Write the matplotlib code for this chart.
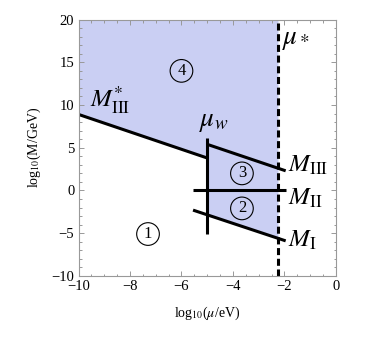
import matplotlib

matplotlib.use("Agg")
import numpy as np
import matplotlib.pyplot as plt
from matplotlib.ticker import MultipleLocator

plt.rcParams["font.family"] = ["Liberation Serif", "DejaVu Serif"]
plt.rcParams["mathtext.fontset"] = "stix"

# boundary lines, (log10 mu/eV, log10 M/GeV)
m3_star_x = [-10.0, -5.0]
m3_star_y = [8.9, 3.8]
m3_x = [-5.0, -1.95]
m3_y = [5.4, 2.3]
m2_x = [-5.55, -1.95]
m2_y = [0.0, 0.0]
m1_x = [-5.55, -1.95]
m1_y = [-2.3, -5.9]
mu_w = -5.0
mu_w_range = [-5.1, 6.1]
mu_star = -2.25

regions = ["1", "2", "3", "4"]
region_x = [-7.3, -3.65, -3.65, -6.0]
region_y = [-5.1, -2.1, 2.0, 14.0]

fill_col = "#cacff3"
line_kw = dict(color="black", lw=2.2, solid_capstyle="butt")

fig = plt.figure(figsize=(3.74, 3.44), dpi=100)
ax = fig.add_axes([0.210, 0.198, 0.688, 0.745])

# shaded region: above M*_III (left of mu_w), above M_I (right of mu_w), left of mu_*
xl = np.linspace(-10, mu_w, 50)
xr = np.linspace(mu_w, mu_star, 50)
lower = np.concatenate([np.interp(xl, m3_star_x, m3_star_y),
                        np.interp(xr, m1_x, m1_y)])
xs = np.concatenate([xl, xr])
ax.fill_between(xs, lower, 20, color=fill_col, lw=0)

ax.plot(m3_star_x, m3_star_y, **line_kw)
ax.plot(m3_x, m3_y, **line_kw)
ax.plot(m2_x, m2_y, **line_kw)
ax.plot(m1_x, m1_y, **line_kw)
ax.plot([mu_w, mu_w], mu_w_range, **line_kw)
ax.axvline(mu_star, color="black", lw=2.2, linestyle=(0, (2.3, 1.2)))

for lab, x, y in zip(regions, region_x, region_y):
    ax.text(x, y, lab, ha="center", va="center", fontsize=12,
            bbox=dict(boxstyle="circle,pad=0.2", fc="none", ec="black", lw=0.8))

fs = 18
ax.text(-9.55, 9.75, r"$M_{\rm III}^{*}$", fontsize=fs, ha="left", va="baseline")
ax.text(-5.3, 7.6, r"$\mu_w$", fontsize=19.5, ha="left", va="baseline")
ax.text(-2.1, 17.2, r"$\mu_*$", fontsize=19.5, ha="left", va="baseline")
ax.text(-1.85, 2.2, r"$M_{\rm III}$", fontsize=fs, ha="left", va="baseline")
ax.text(-1.85, -1.7, r"$M_{\rm II}$", fontsize=fs, ha="left", va="baseline")
ax.text(-1.85, -6.6, r"$M_{\rm I}$", fontsize=fs, ha="left", va="baseline")

ax.set_xlim(-10, 0)
ax.set_ylim(-10, 20)
ax.xaxis.set_major_locator(MultipleLocator(2))
ax.xaxis.set_minor_locator(MultipleLocator(0.5))
ax.yaxis.set_major_locator(MultipleLocator(5))
ax.yaxis.set_minor_locator(MultipleLocator(1))
ax.tick_params(which="both", direction="in", top=True, right=True,
               color="#999999", width=0.7, labelsize=10.5)
ax.tick_params(axis="x", pad=3)
ax.tick_params(axis="y", pad=3)
ax.tick_params(which="major", length=3.5)
ax.tick_params(which="minor", length=1.8)
for sp in ax.spines.values():
    sp.set_color("#999999")
    sp.set_linewidth(0.8)

ax.set_xlabel(r"log$_{10}$($\mu$/eV)", fontsize=10, labelpad=8)
ax.set_ylabel(r"log$_{10}$(M/GeV)", fontsize=10, labelpad=6)

fig.savefig("out.png", dpi=100)
